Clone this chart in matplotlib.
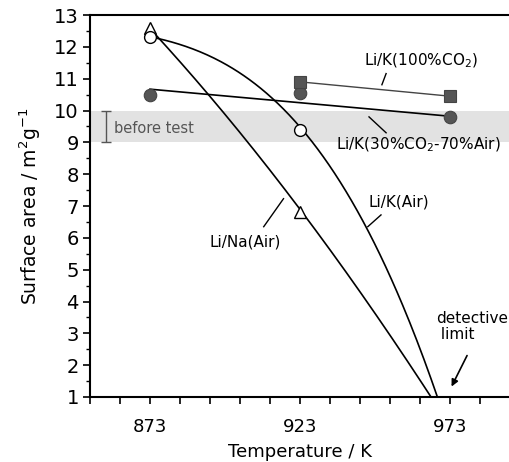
import numpy as np
import matplotlib
matplotlib.use("Agg")
import matplotlib.pyplot as plt
from matplotlib.ticker import MultipleLocator, FixedLocator

plt.rcParams['font.family'] = ['DejaVu Sans']

# Data
temps = [873, 923, 973]

# Li/Na(Air)
lina_marker_x = [873, 923]
lina_marker_y = [12.6, 6.8]
lina_line_x = [874.2, 892.6, 906.5, 919.9, 966.7]
lina_line_y = [12.44, 10.5, 8.92, 7.25, 1.0]

# Li/K(Air)
liK_air_x = [873, 923]
liK_air_y = [12.3, 9.4]
liK_air_curve_x = [875, 892, 903, 914, 923, 929, 945.5, 956.7, 969]
liK_air_curve_y = [12.28, 11.75, 11.18, 10.34, 9.4, 8.87, 6.36, 3.84, 1.0]

# Li/K(30%CO2-70%Air)
mix_x = [873, 923, 973]
mix_y = [10.5, 10.55, 9.8]
mix_fit_x = [873, 973]
mix_fit_y = [10.67, 9.82]

# Li/K(100%CO2)
co2_x = [923, 973]
co2_y = [10.9, 10.45]

before_low, before_high = 9.0, 10.0

fig = plt.figure(figsize=(5.10, 4.62), dpi=100)
ax = fig.add_axes([0.1765, 0.1407, 0.8235, 0.8268])

ax.set_xlim(853, 993)
ax.set_ylim(1, 13)

# band
ax.axhspan(before_low, before_high, color='#e2e2e2', zorder=0, lw=0)
ax.errorbar([858.4], [9.5], yerr=[[0.5], [0.5]], fmt='none', ecolor='#555555',
            elinewidth=1.0, capsize=3.5, capthick=1.0, zorder=2)
ax.text(861.0, 9.45, 'before test', fontsize=10.5, color='#555555', va='center', ha='left')

# Li/Na(Air) smooth line through traced points
c_na = np.polyfit(lina_line_x, lina_line_y, 2)
xn = np.linspace(lina_line_x[0], lina_line_x[-1], 200)
ax.plot(xn, np.polyval(c_na, xn), color='black', lw=1.2, zorder=3)
ax.plot(lina_marker_x, lina_marker_y, linestyle='none', marker='^', ms=9,
        mfc='white', mec='black', mew=1.0, zorder=4)

# Li/K(Air) smooth curve through traced points
coef = np.polyfit(liK_air_curve_x, liK_air_curve_y, 3)
xx = np.linspace(liK_air_curve_x[0], liK_air_curve_x[-1], 200)
ax.plot(xx, np.polyval(coef, xx), color='black', lw=1.2, zorder=3)
ax.plot(liK_air_x, liK_air_y, linestyle='none', marker='o', ms=8.5,
        mfc='white', mec='black', mew=1.0, zorder=4)

# Li/K(30%CO2-70%Air)
ax.plot(mix_fit_x, mix_fit_y, color='black', lw=1.2, zorder=3)
ax.plot(mix_x, mix_y, linestyle='none', marker='o', ms=9,
        mfc='#555555', mec='#444444', mew=0.8, zorder=4)

# Li/K(100%CO2)
ax.plot(co2_x, co2_y, color='#444444', lw=1.0, zorder=3)
ax.plot(co2_x, co2_y, linestyle='none', marker='s', ms=9,
        mfc='#555555', mec='#444444', mew=0.8, zorder=4)

# labels with leader lines
fs = 11
ax.text(963.4, 11.55, 'Li/K(100%CO$_2$)', fontsize=fs, ha='center', va='center')
ax.plot([951.7, 950.3], [11.16, 10.81], color='black', lw=1.0)

ax.text(962.4, 8.92, 'Li/K(30%CO$_2$-70%Air)', fontsize=fs, ha='center', va='center')
ax.plot([946.0, 951.7], [9.8, 9.3], color='black', lw=1.0)

ax.text(956.0, 7.12, 'Li/K(Air)', fontsize=fs, ha='center', va='center')
ax.plot([950.0, 945.6], [6.72, 6.35], color='black', lw=1.0)

ax.text(904.8, 5.87, 'Li/Na(Air)', fontsize=fs, ha='center', va='center')
ax.plot([917.5, 910.9], [7.23, 6.35], color='black', lw=1.0)

ax.text(968.4, 3.22, 'detective\n limit', fontsize=fs, ha='left', va='center',
        linespacing=1.1)
ax.annotate('', xy=(973.1, 1.25), xytext=(979.1, 2.38),
            arrowprops=dict(arrowstyle='-|>', color='black', lw=1.2,
                            mutation_scale=10))

# axes styling
ax.spines['right'].set_visible(False)
for s in ['left', 'bottom', 'top']:
    ax.spines[s].set_linewidth(1.5)

ax.set_xticks(temps)
ax.xaxis.set_minor_locator(FixedLocator([853, 863, 883, 893, 903, 913, 933, 943, 953, 963, 983, 993]))
ax.yaxis.set_major_locator(MultipleLocator(1))
ax.yaxis.set_minor_locator(MultipleLocator(0.5))
ax.tick_params(axis='x', which='both', direction='out', length=5, width=1.2,
               labelsize=13, pad=10)
ax.tick_params(axis='y', which='major', direction='out', length=5, width=1.2,
               labelsize=14, pad=3)
ax.tick_params(axis='y', which='minor', direction='out', length=3, width=1.0)

ax.set_xlabel('Temperature / K', fontsize=13, labelpad=5)
ax.set_ylabel('Surface area / m$^2$g$^{-1}$', fontsize=13.5, labelpad=8)

fig.savefig('out.png', dpi=100)
